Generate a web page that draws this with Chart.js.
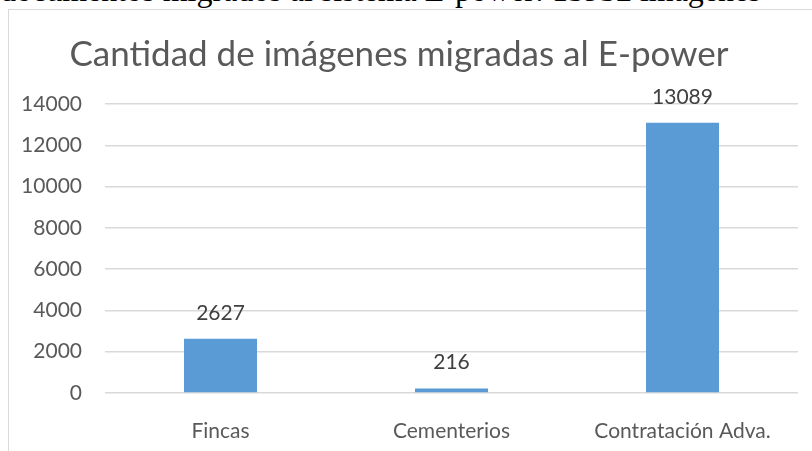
<!DOCTYPE html>
<html>
<head>
<meta charset="utf-8">
<script src="https://cdn.jsdelivr.net/npm/chart.js@4"></script>
<style>
  html, body { margin: 0; padding: 0; background: #fff; overflow: hidden; }
  #page { position: relative; width: 812px; height: 451px; }
  #caption { position: absolute; left: 0; top: -28px; font-family: "Liberation Serif", serif; font-size: 32px; color: #000; white-space: nowrap; }
  #frame { position: absolute; left: 8px; top: 9px; width: 820px; height: 460px; border-left: 1px solid #d9d9d9; border-top: 1px solid #d9d9d9; }
  #wrap { position: absolute; left: 0; top: 0; width: 812px; height: 451px; }
</style>
</head>
<body>
<div id="page">
  <div id="caption">documentos migrados al sistema E-power: 15932 imágenes</div>
  <div id="frame"></div>
  <div id="wrap"><canvas id="myChart"></canvas></div>
</div>
<script>
var categories = ["Fincas", "Cementerios", "Contratación Adva."];
var imagenes = [2627, 216, 13089];
var yTicks = [0, 2000, 4000, 6000, 8000, 10000, 12000, 14000];

// draws the value above each bar
var valueLabels = {
    id: 'valueLabels',
    afterDatasetsDraw: function(chart) {
        var ctx = chart.ctx;
        var meta = chart.getDatasetMeta(0);
        ctx.save();
        ctx.font = '21px Lato';
        ctx.fillStyle = '#404040';
        ctx.textAlign = 'center';
        ctx.textBaseline = 'middle';
        meta.data.forEach(function(bar, i) {
            ctx.fillText(String(imagenes[i]), bar.x, bar.y - 26);
        });
        ctx.restore();
    }
};

var ctx = document.getElementById("myChart");
var myChart = new Chart(ctx, {
    type: 'bar',
    data: {
        labels: categories,
        datasets: [{
            label: "Cantidad",
            backgroundColor: "#5b9bd5",
            data: imagenes,
            categoryPercentage: 1,
            barPercentage: 0.316
        }]
    },
    options: {
        responsive: true,
        maintainAspectRatio: false,
        animation: false,
        layout: { padding: { left: 0, right: 14, top: 0, bottom: 0 } },
        plugins: {
            legend: { display: false },
            tooltip: { enabled: false },
            title: {
                display: true,
                text: 'Cantidad de imágenes migradas al E-power',
                color: '#595959',
                font: { family: 'Lato', size: 35, weight: 'normal' },
                padding: { top: 34, bottom: 28 }
            }
        },
        scales: {
            x: {
                grid: { display: false },
                border: { display: false },
                ticks: { color: '#595959', font: { family: 'Lato', size: 21 }, padding: 18 },
                afterFit: function(s) { s.height = 58; }
            },
            y: {
                min: 0,
                max: 14000,
                afterBuildTicks: function(s) { s.ticks = yTicks.map(function(v) { return { value: v }; }); },
                grid: { color: '#d9d9d9', lineWidth: 1.5, drawTicks: false },
                border: { display: false },
                ticks: {
                    color: '#595959',
                    font: { family: 'Lato', size: 21 },
                    padding: 23,
                    callback: function(v) { return String(v); }
                },
                afterFit: function(s) { s.width = 105; }
            }
        }
    },
    plugins: [valueLabels]
});
</script>
</body>
</html>
